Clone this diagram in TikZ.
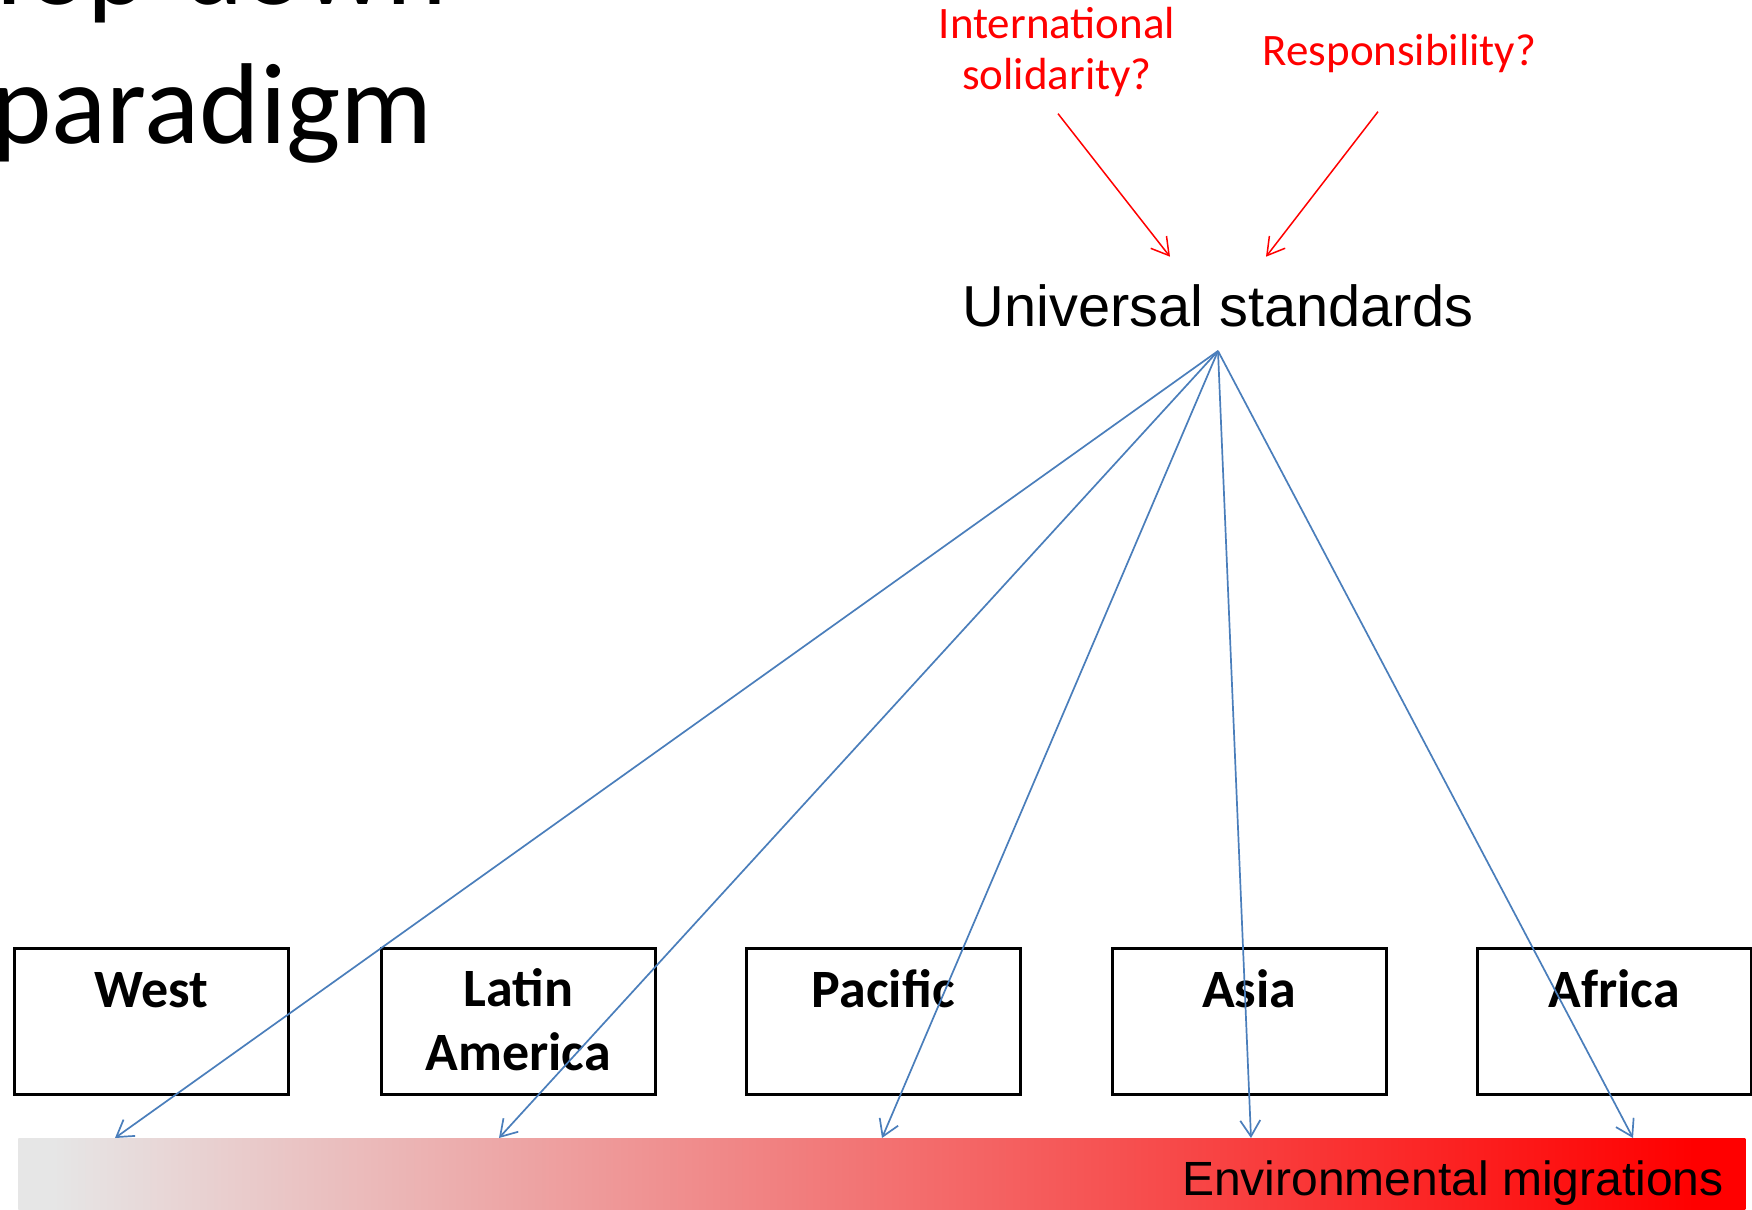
\documentclass[tikz,border=0pt]{standalone}
\usepackage{fontspec}
\setmainfont{Carlito}
\newfontfamily\arialf{Liberation Sans}
\usetikzlibrary{arrows.meta,calc}
\definecolor{pptblue}{RGB}{74,126,187}
\definecolor{bargray}{RGB}{230,230,230}
\definecolor{barred}{RGB}{255,0,0}
\pgfdeclarehorizontalshading{migr}{100bp}{color(0bp)=(bargray); color(26bp)=(bargray); color(73.5bp)=(barred); color(100bp)=(barred)}
\begin{document}
\begin{tikzpicture}[x=0.5pt,y=-0.5pt,
  titletxt/.style={font=\fontsize{57.5}{69}\selectfont, inner sep=0, anchor=base},
  redtxt/.style={text=red, font=\fontsize{22.5}{25}\selectfont, align=center, inner sep=0, anchor=base},
  ustxt/.style={font=\arialf\fontsize{28.9}{34}\selectfont, inner xsep=0, inner ysep=12pt, anchor=base},
  envtxt/.style={font=\arialf\fontsize{24}{28}\selectfont, inner sep=0, anchor=base east},
  regionbox/.style={draw=black, line width=1.25pt, minimum width=137pt, minimum height=73pt, inner sep=0, anchor=north west},
  boxtxt/.style={font=\bfseries\fontsize{27}{32}\selectfont, align=center, inner sep=0, anchor=base},
  migrbar/.style={shading=migr, minimum width=863.5pt, minimum height=36pt, inner sep=0, anchor=north west},
  downarr/.style={pptblue, line width=0.85pt, -{Straight Barb[length=8pt,width=10pt]}},
  redarr/.style={red, line width=0.75pt, -{Straight Barb[length=8.5pt,width=10pt]}}
]
\useasboundingbox (0,0) rectangle (1752,1210);
\fill[white] (0,0) rectangle (1752,1210);

% title (partly outside the frame, as in the slide crop)
\node[titletxt] (titletop) at (214,4) {Top-down};
\node[titletxt] (title) at (212,143) {paradigm};

% red questions
\node[redtxt] (intl) at (1057,89) {International\\solidarity?};
\node[redtxt] (resp) at (1399.5,65) {Responsibility?};

% universal standards
\node[ustxt] (us) at (1218,326) {Universal standards};

% gradient bar
\node[migrbar, shade] (bar) at (18,1138) {};
\node[envtxt] (env) at (1724,1195) {Environmental migrations};

% region boxes
\node[regionbox] (west) at (13,947) {};
\node[regionbox] (latam) at (380,947) {};
\node[regionbox] (pac) at (745,947) {};
\node[regionbox] (asia) at (1111,947) {};
\node[regionbox] (afr) at (1476,947) {};
\node[boxtxt] (westl) at (west.north |- 0,1007) {West};
\node[boxtxt] (latal) at (latam.north |- 0,1070) {Latin\\America};
\node[boxtxt] (pacl) at (pac.north |- 0,1007) {Pacific};
\node[boxtxt] (asial) at (asia.north |- 0,1007) {Asia};
\node[boxtxt] (afrl) at (afr.north |- 0,1007) {Africa};

% red arrows
\draw[redarr] ($(intl.south)+(1,17)$) -- ($(us.north)+(-48,-3)$);
\draw[redarr] ($(resp.south)+(-21.5,39)$) -- ($(us.north)+(48,-3)$);

% blue arrows
\draw[downarr] (us.south) -- ($(bar.north west)+(97,0)$);
\draw[downarr] (us.south) -- ($(bar.north west)+(481,0)$);
\draw[downarr] (us.south) -- ($(bar.north west)+(864,0)$);
\draw[downarr] (us.south) -- ($(bar.north west)+(1233,0)$);
\draw[downarr] (us.south) -- ($(bar.north west)+(1615,0)$);
\end{tikzpicture}
\end{document}
